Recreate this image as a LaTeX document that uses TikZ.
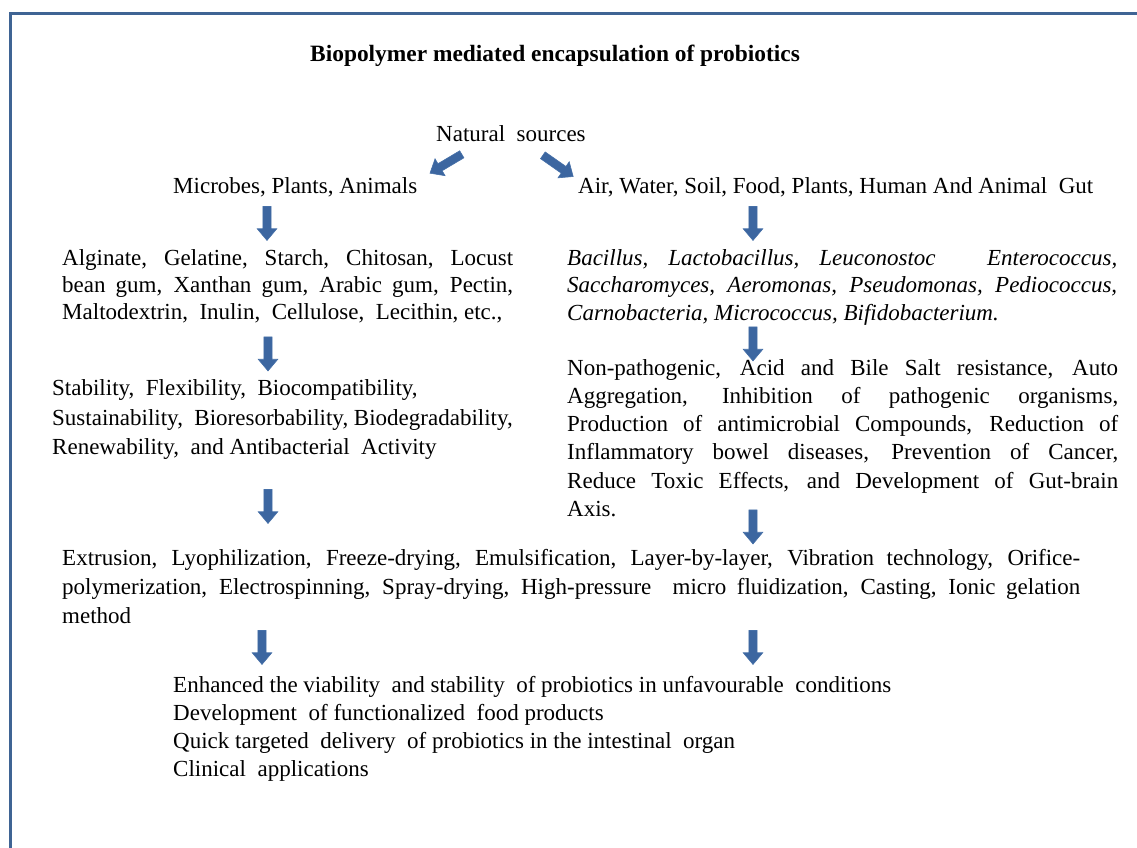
\documentclass[tikz,border=0pt]{standalone}
\usepackage{fontspec}
\setmainfont{Liberation Serif}
\usetikzlibrary{shapes.arrows}
\definecolor{frameblue}{RGB}{63,100,148}
\definecolor{arrfill}{RGB}{60,102,160}
\definecolor{arredge}{RGB}{70,112,168}
\newcommand{\jline}[2]{\makebox[#1][s]{#2}}
\begin{document}
\begin{tikzpicture}[x=1pt,y=-1pt,
  txt/.style={anchor=base west, inner sep=0pt, font=\fontsize{23}{27}\selectfont},
  ttl/.style={anchor=base west, inner sep=0pt, font=\fontsize{23.4}{27}\selectfont\bfseries},
  barrow/.style={single arrow, fill=arrfill, draw=arredge, line width=0.6pt,
    inner xsep=0pt, inner ysep=3.8pt,
    minimum width=19pt, single arrow head extend=5.7pt, single arrow tip angle=80,
    minimum height=34pt}]
\useasboundingbox (0,0) rectangle (1137,847);
\clip (0,0) rectangle (1137,847);
\draw[frameblue, line width=3pt] (10,13.3) rectangle (1250,950);

% title
\node[ttl] (title) at (310,61) {Biopolymer mediated encapsulation of probiotics};
\node[txt] (nat) at (436,141) {Natural\ \ sources};
\node[txt] (mpa) at (173,193) {Microbes, Plants, Animals};
\node[txt] (air) at (578,193) {Air, Water, Soil, Food, Plants, Human And Animal\ \ Gut};

% left block A
\node[txt] (a1) at (62,265) {\jline{451pt}{Alginate, Gelatine, Starch, Chitosan, Locust}};
\node[txt] (a2) at (62,292) {\jline{451pt}{bean gum, Xanthan gum, Arabic gum, Pectin,}};
\node[txt] (a3) at (62,319) {Maltodextrin,\ \ Inulin,\ \ Cellulose,\ \ Lecithin, etc.,};

% right block 1
\node[txt,font=\fontsize{23}{27}\selectfont\itshape] (b1) at (567,265) {\jline{550pt}{Bacillus, Lactobacillus, Leuconostoc\ \ \ Enterococcus,}};
\node[txt,font=\fontsize{23}{27}\selectfont\itshape] (b2) at (567,292) {\jline{550pt}{Saccharomyces, Aeromonas, Pseudomonas, Pediococcus,}};
\node[txt,font=\fontsize{23}{27}\selectfont\itshape] (b3) at (567,320) {Carnobacteria, Micrococcus, Bifidobacterium.};

% left block B
\node[txt] (c1) at (52,395) {Stability,\ \ Flexibility,\ \ Biocompatibility,};
\node[txt] (c2) at (52,425) {Sustainability,\ \ Bioresorbability, Biodegradability,};
\node[txt] (c3) at (52,454) {Renewability,\ \ and Antibacterial\ \ Activity};

% right block 2
\node[txt] (d1) at (567,375) {\jline{551pt}{Non-pathogenic, Acid and Bile Salt resistance, Auto}};
\node[txt] (d2) at (567,403) {\jline{551pt}{Aggregation, Inhibition of pathogenic organisms,}};
\node[txt] (d3) at (567,431) {\jline{551pt}{Production of antimicrobial Compounds, Reduction of}};
\node[txt] (d4) at (567,459) {\jline{551pt}{Inflammatory bowel diseases, Prevention of Cancer,}};
\node[txt] (d5) at (567,488) {\jline{551pt}{Reduce Toxic Effects, and Development of Gut-brain}};
\node[txt] (d6) at (567,516) {Axis.};

% process block
\node[txt] (e1) at (62,565) {\jline{1018pt}{Extrusion, Lyophilization, Freeze-drying, Emulsification, Layer-by-layer, Vibration technology, Orifice-}};
\node[txt] (e2) at (62,594) {\jline{1018pt}{polymerization, Electrospinning, Spray-drying, High-pressure\ \ micro fluidization, Casting, Ionic gelation}};
\node[txt] (e3) at (62,623) {method};

% outcomes
\node[txt] (f1) at (173,692) {Enhanced the viability\ \ and stability\ \ of probiotics in unfavourable\ \ conditions};
\node[txt] (f2) at (173,720) {Development\ \ of functionalized\ \ food products};
\node[txt] (f3) at (173,748) {Quick targeted\ \ delivery\ \ of probiotics in the intestinal\ \ organ};
\node[txt] (f4) at (173,776) {Clinical\ \ applications};

% block arrows
\node[barrow, rotate=210.7, minimum height=37pt] (sl) at (448,162.5) {};
\node[barrow, rotate=-35, minimum height=37pt] (sr) at (556,164.5) {};
\node[barrow, rotate=-90] (ar1) at (267,221) {};
\node[barrow, rotate=-90] (ar2) at (753,221) {};
\node[barrow, rotate=-90] (ar3) at (268,351.5) {};
\node[barrow, rotate=-90] (ar4) at (753,341.5) {};
\node[barrow, rotate=-90] (ar5) at (268,504) {};
\node[barrow, rotate=-90] (ar6) at (753,524.5) {};
\node[barrow, rotate=-90] (ar7) at (262,645) {};
\node[barrow, rotate=-90] (ar8) at (753,645) {};
\end{tikzpicture}
\end{document}
